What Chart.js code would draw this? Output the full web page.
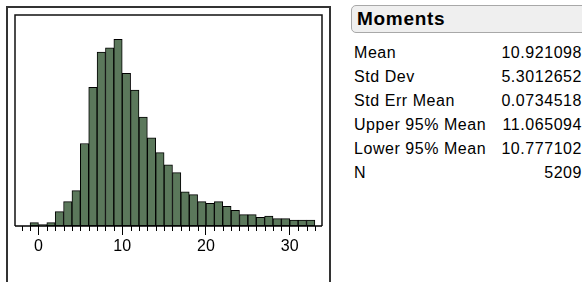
<!DOCTYPE html>
<html>
<head>
<meta charset="utf-8">
<script src="https://cdn.jsdelivr.net/npm/chart.js@4"></script>
<style>
  body { margin: 0; width: 582px; height: 282px; overflow: hidden; background: #fff; font-family: "Liberation Sans", Arial, sans-serif; position: relative; }
  #frame { position: absolute; left: 6px; top: 6px; width: 325px; height: 300px; border: 2px solid #333; border-bottom: none; box-sizing: border-box; }
  #wrap { position: absolute; left: 0; top: 0; width: 340px; height: 282px; }
  #head { position: absolute; left: 351px; top: 5px; width: 250px; height: 28px; box-sizing: border-box; border: 1.5px solid #a8a8a8; border-radius: 5px; background: #efefef; font-weight: bold; font-size: 19px; letter-spacing: 0.7px; line-height: 25px; padding-left: 5px; }
  #tbl { position: absolute; left: 354px; top: 41px; width: 228px; font-size: 16px; letter-spacing: 0.55px; }
  .row { display: flex; justify-content: space-between; height: 24px; line-height: 24px; }
</style>
</head>
<body>
<div id="frame"></div>
<div id="wrap"><canvas id="hist" width="340" height="282"></canvas></div>
<div id="head">Moments</div>
<div id="tbl"></div>
<script>
// histogram bins (left edge of each bin, width 1)
const binStarts = [-1, 0, 1, 2, 3, 4, 5, 6, 7, 8, 9, 10, 11, 12, 13, 14, 15, 16,
                   17, 18, 19, 20, 21, 22, 23, 24, 25, 26, 27, 28, 29, 30, 31, 32];
const counts = [10, 4, 10, 43, 73, 106, 247, 415, 521, 534, 559, 457, 407, 326, 264, 220, 183, 160,
                102, 94, 73, 68, 73, 59, 47, 34, 34, 26, 30, 22, 22, 18, 18, 18];
const tickLabels = [0, 10, 20, 30];

const momentNames = ['Mean', 'Std Dev', 'Std Err Mean', 'Upper 95% Mean', 'Lower 95% Mean', 'N'];
const momentValues = ['10.921098', '5.3012652', '0.0734518', '11.065094', '10.777102', '5209'];

const tbl = document.getElementById('tbl');
momentNames.forEach((n, i) => {
  const r = document.createElement('div');
  r.className = 'row';
  r.innerHTML = '<span>' + n + '</span><span>' + momentValues[i] + '</span>';
  tbl.appendChild(r);
});

// box around plot area + short minor ticks
const framePlugin = {
  id: 'framePlugin',
  afterDraw(chart) {
    const c = chart.ctx, a = chart.chartArea, x = chart.scales.x;
    c.save();
    c.strokeStyle = '#111';
    c.lineWidth = 1.5;
    c.beginPath();
    c.moveTo(a.left, a.bottom);
    c.lineTo(a.left, a.top);
    c.lineTo(a.right, a.top);
    c.lineTo(a.right, a.bottom);
    c.stroke();
    c.strokeStyle = '#000';
    c.beginPath();
    c.moveTo(a.left, a.bottom);
    c.lineTo(a.right, a.bottom);
    c.stroke();
    c.lineWidth = 1;
    for (let v = -2; v <= 33; v++) {
      if (tickLabels.includes(v)) continue;
      const px = Math.round(x.getPixelForValue(v)) + 0.5;
      c.beginPath();
      c.moveTo(px, a.bottom);
      c.lineTo(px, a.bottom + 5);
      c.stroke();
    }
    c.restore();
  }
};

const chart = new Chart(document.getElementById('hist'), {
  type: 'bar',
  data: {
    datasets: [{
      data: binStarts.map((b, i) => ({ x: b + 0.5, y: counts[i] })),
      backgroundColor: '#5b785b',
      borderColor: '#000',
      borderWidth: 1,
      borderSkipped: false,
      barPercentage: 1,
      categoryPercentage: 1
    }]
  },
  options: {
    responsive: false,
    animation: false,
    layout: { padding: { left: 15, top: 15, right: 18, bottom: 20 } },
    plugins: { legend: { display: false }, tooltip: { enabled: false } },
    scales: {
      x: {
        type: 'linear',
        offset: false,
        min: -2.8,
        max: 33.85,
        afterBuildTicks: s => { s.ticks = tickLabels.map(v => ({ value: v })); },
        afterFit: s => { s.height = 36; },
        ticks: { color: '#000', font: { family: 'Liberation Sans', size: 16 }, padding: 2, maxRotation: 0 },
        grid: { offset: false, drawOnChartArea: false, tickLength: 9, tickColor: '#000', tickWidth: 1 },
        border: { display: false }
      },
      y: { display: false, min: 0, max: 632 }
    }
  },
  plugins: [framePlugin]
});
</script>
</body>
</html>
